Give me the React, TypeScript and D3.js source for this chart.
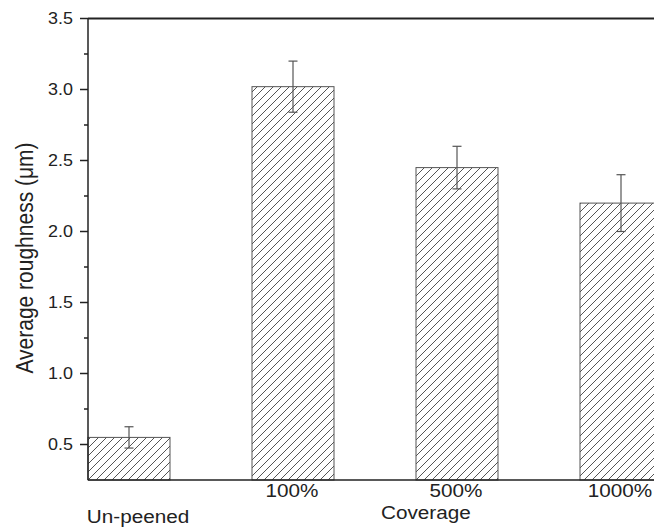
import React, { useEffect, useRef } from "react";
import * as d3 from "d3";

const categories = ["Un-peened", "100%", "500%", "1000%"];
const roughness = [0.55, 3.02, 2.45, 2.2];
const errors = [0.075, 0.18, 0.15, 0.2];
const majorTicks = [0.5, 1.0, 1.5, 2.0, 2.5, 3.0, 3.5];
const minorTicks = [0.75, 1.25, 1.75, 2.25, 2.75, 3.25];

const App = () => {
  const chartEl = useRef<SVGSVGElement | null>(null);

  useEffect(() => {
    const width = 654,
      height = 529;
    const stretch = "scale(1.12,1)";
    const font = "Arial, 'Liberation Sans', sans-serif";

    const svg = d3
      .select(chartEl.current)
      .attr("width", width)
      .attr("height", height);
    svg.selectAll("*").remove();

    const x = d3
      .scaleBand()
      .domain(categories)
      .range([88, 662])
      .paddingInner(0.5)
      .paddingOuter(0);

    const y = d3.scaleLinear().domain([0.25, 3.5]).range([480, 18.5]);

    const defs = svg.append("defs");
    const pat = defs
      .append("pattern")
      .attr("id", "hatch")
      .attr("patternUnits", "userSpaceOnUse")
      .attr("width", 8)
      .attr("height", 8);
    pat.append("rect").attr("width", 8).attr("height", 8).attr("fill", "#fff");
    pat
      .append("path")
      .attr("d", "M-2,2 L2,-2 M0,8 L8,0 M6,10 L10,6")
      .attr("stroke", "#555")
      .attr("stroke-width", 1);

    // bars
    svg
      .selectAll(".bar")
      .data(roughness)
      .enter()
      .append("rect")
      .attr("class", "bar")
      .attr("x", (d, i) => x(categories[i])!)
      .attr("y", (d) => y(d))
      .attr("width", x.bandwidth())
      .attr("height", (d) => y(0.25) - y(d))
      .attr("fill", "url(#hatch)")
      .attr("stroke", "#555")
      .attr("stroke-width", 1);

    // error bars
    const eb = svg
      .selectAll(".err")
      .data(roughness)
      .enter()
      .append("g")
      .attr("class", "err")
      .attr("stroke", "#555")
      .attr("stroke-width", 1.2);
    const cx = (i: number) => x(categories[i])! + x.bandwidth() / 2;
    eb.append("line")
      .attr("x1", (d, i) => cx(i))
      .attr("x2", (d, i) => cx(i))
      .attr("y1", (d, i) => y(d + errors[i]))
      .attr("y2", (d, i) => y(d - errors[i]));
    eb.append("line")
      .attr("x1", (d, i) => cx(i) - 4.5)
      .attr("x2", (d, i) => cx(i) + 4.5)
      .attr("y1", (d, i) => y(d + errors[i]))
      .attr("y2", (d, i) => y(d + errors[i]));
    eb.append("line")
      .attr("x1", (d, i) => cx(i) - 4.5)
      .attr("x2", (d, i) => cx(i) + 4.5)
      .attr("y1", (d, i) => y(d - errors[i]))
      .attr("y2", (d, i) => y(d - errors[i]));

    // axes frame
    const axisColor = "#222";
    svg
      .append("line")
      .attr("x1", 88)
      .attr("x2", 88)
      .attr("y1", y(3.5))
      .attr("y2", y(0.25))
      .attr("stroke", axisColor)
      .attr("stroke-width", 1.5);
    svg
      .append("line")
      .attr("x1", 88)
      .attr("x2", width)
      .attr("y1", y(3.5))
      .attr("y2", y(3.5))
      .attr("stroke", axisColor)
      .attr("stroke-width", 1.8);
    svg
      .append("line")
      .attr("x1", 88)
      .attr("x2", width)
      .attr("y1", y(0.25))
      .attr("y2", y(0.25))
      .attr("stroke", axisColor)
      .attr("stroke-width", 1.5);

    svg
      .selectAll(".major")
      .data(majorTicks)
      .enter()
      .append("line")
      .attr("x1", 80)
      .attr("x2", 88)
      .attr("y1", (d) => y(d))
      .attr("y2", (d) => y(d))
      .attr("stroke", axisColor)
      .attr("stroke-width", 1.5);
    svg
      .selectAll(".minor")
      .data(minorTicks)
      .enter()
      .append("line")
      .attr("x1", 84)
      .attr("x2", 88)
      .attr("y1", (d) => y(d))
      .attr("y2", (d) => y(d))
      .attr("stroke", axisColor)
      .attr("stroke-width", 1.5);

    svg
      .selectAll(".ylab")
      .data(majorTicks)
      .enter()
      .append("text")
      .attr("transform", (d) => `translate(73,${y(d) + 5.7}) ${stretch}`)
      .attr("text-anchor", "end")
      .attr("font-family", font)
      .attr("font-size", 16)
      .attr("fill", "#222")
      .text((d) => d.toFixed(1));

    // category labels
    svg
      .selectAll(".xlab")
      .data(categories)
      .enter()
      .append("text")
      .attr("transform", (d, i) =>
        i === 0
          ? `translate(${cx(i) + 9},522.5) ${stretch}`
          : `translate(${cx(i) - 1},497) ${stretch}`
      )
      .attr("text-anchor", "middle")
      .attr("font-family", font)
      .attr("font-size", 18.5)
      .attr("fill", "#222")
      .text((d) => d);

    svg
      .append("text")
      .attr("transform", `translate(381,519) ${stretch}`)
      .attr("font-family", font)
      .attr("font-size", 18.5)
      .attr("fill", "#222")
      .text("Coverage");

    svg
      .append("text")
      .attr("transform", `translate(33,258) ${stretch} rotate(-90)`)
      .attr("text-anchor", "middle")
      .attr("font-family", font)
      .attr("font-size", 21)
      .attr("fill", "#222")
      .text("Average roughness (\u03bcm)");
  }, [chartEl]);

  return (
    <svg
      ref={chartEl}
      style={{ position: "absolute", left: 0, top: 0, display: "block", background: "#fff" }}
    ></svg>
  );
};

export default App;
